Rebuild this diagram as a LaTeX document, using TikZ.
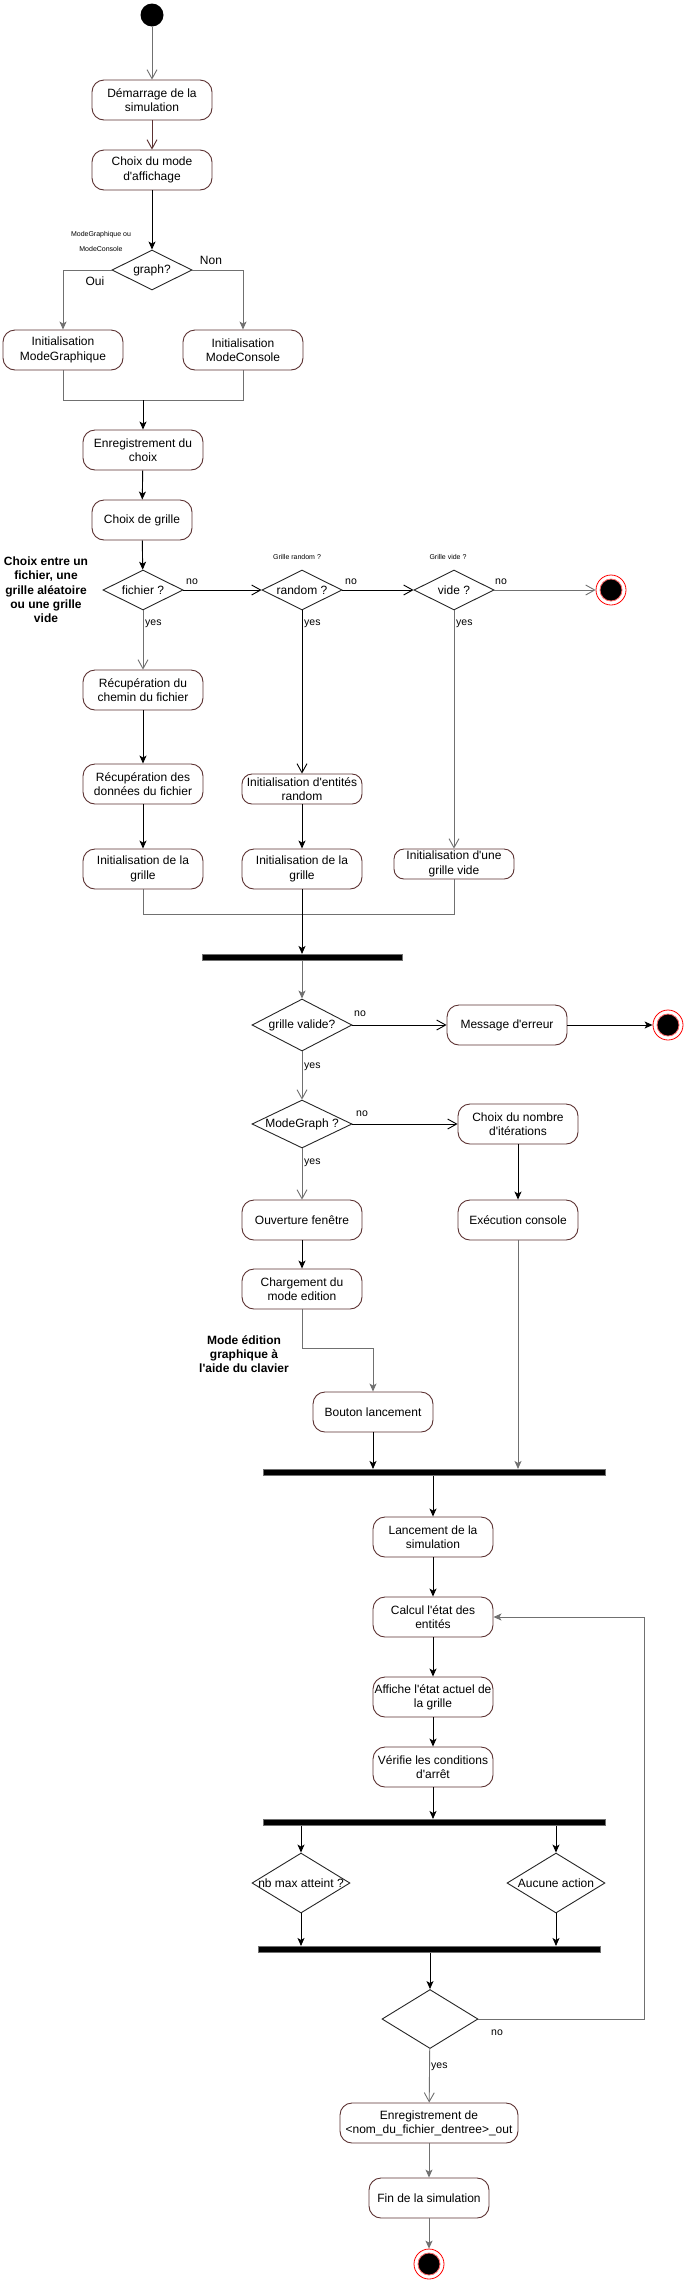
\documentclass[tikz,border=0pt]{standalone}
\usepackage{fontspec}
\setmainfont{Liberation Sans}[Ligatures=TeXOff]
\usetikzlibrary{arrows.meta,shapes.geometric}
\definecolor{boxbrd}{RGB}{92,50,50}
\definecolor{linegray}{RGB}{112,112,112}
\tikzstyle{activity}=[
    rectangle, rounded corners=12pt,
    draw=boxbrd, fill=white, line width=0.9pt,
    minimum width=120pt, minimum height=40pt,
    inner sep=1pt, align=center,
    font=\fontsize{12}{14.3}\selectfont,
]
\tikzstyle{decision}=[
    diamond, shape aspect=2,
    draw=black!85, fill=white, line width=0.9pt,
    minimum width=80pt, minimum height=40pt,
    inner sep=0pt,
    font=\fontsize{12}{14}\selectfont,
]
\tikzstyle{forkbar}=[rectangle, fill=black, draw=linegray, line width=0.6pt, minimum height=6.5pt, inner sep=0pt]
\tikzstyle{startnode}=[circle, fill=black, minimum size=23pt, inner sep=0pt]
\tikzstyle{endnode}=[
    circle, draw=red, line width=0.8pt, fill=white,
    minimum size=30pt, inner sep=0pt,
    path picture={\filldraw[fill=black, draw=red!60] (path picture bounding box.center) circle (11pt);},
]
\tikzstyle{flow}=[line width=0.9pt, -{Stealth[length=8pt,width=7pt,inset=2pt]}]
\tikzstyle{flowg}=[flow, draw=linegray]
\tikzstyle{guard}=[line width=0.9pt, -{Straight Barb[length=9pt,width=10pt]}]
\tikzstyle{guardg}=[guard, draw=linegray]
\tikzstyle{branch}=[font=\fontsize{12}{14}\selectfont, inner sep=0pt]
\tikzstyle{guardtext}=[font=\fontsize{10.5}{12}\selectfont, inner sep=0pt, anchor=west]
\tikzstyle{smallnote}=[font=\fontsize{7}{15}\selectfont, align=center, inner sep=0pt]
\tikzstyle{comment}=[font=\bfseries\fontsize{12}{14.3}\selectfont, align=center, inner sep=0pt]

\begin{document}
\begin{tikzpicture}[x=1pt, y=-1pt]
    \useasboundingbox (0,0) rectangle (684,2281);

    \node[startnode] (start) at (152,15) {};
    \node[activity] (demarrage) at (152,100) {Démarrage de la\\simulation};
    \node[activity] (choixmode) at (152,170) {Choix du mode\\d'affichage};
    \node[decision] (graph) at (152,270) {graph?};
    \node[smallnote] (modelabel) at (101,241) {ModeGraphique ou\\ModeConsole};
    \node[branch] (ouilabel) at (95,281) {Oui};
    \node[branch] (nonlabel) at (211,260) {Non};
    \node[activity] (initgraph) at (63,350) {Initialisation\\ModeGraphique};
    \node[activity] (initconsole) at (243,350) {Initialisation\\ModeConsole};
    \coordinate (join1) at (143,400);
    \node[activity] (enreg) at (143,450) {Enregistrement du\\choix};
    \node[activity, minimum width=100pt] (choixgrille) at (142,520) {Choix de grille};

    \node[comment] (choixnote) at (46,590) {Choix entre un\\fichier, une\\grille aléatoire\\ou une grille\\vide};
    \node[decision] (fichier) at (143,590) {fichier ?};
    \node[decision] (random) at (302,590) {random ?};
    \node[decision] (vide) at (454,590) {vide ?};
    \node[endnode] (end1) at (611,590) {};
    \node[smallnote] (randomlabel) at (297,557) {Grille random ?};
    \node[smallnote] (videlabel) at (448,557) {Grille vide ?};
    \node[guardtext] (no1) at (186,582) {no};
    \node[guardtext] (no2) at (345,582) {no};
    \node[guardtext] (no3) at (495,582) {no};
    \node[guardtext] (yes1) at (145,624) {yes};
    \node[guardtext] (yes2) at (304,624) {yes};
    \node[guardtext] (yes3) at (456,624) {yes};

    \node[activity] (chemin) at (143,690) {Récupération du\\chemin du fichier};
    \node[activity] (donnees) at (143,784) {Récupération des\\données du fichier};
    \node[activity, minimum height=30pt, rounded corners=10pt] (entites) at (302,789) {Initialisation d'entités\\random};
    \node[activity] (grillefichier) at (143,869) {Initialisation de la\\grille};
    \node[activity] (grillerandom) at (302,869) {Initialisation de la\\grille};
    \node[activity, minimum height=30pt, rounded corners=10pt] (grillevide) at (454,864) {Initialisation d'une\\grille vide};
    \coordinate (join2) at (302,914);
    \node[forkbar, minimum width=200pt] (fork1) at (302,957.5) {};

    \node[decision, minimum width=100pt, minimum height=52pt] (valide) at (302,1025) {\makebox[0pt]{grille valide?}};
    \node[activity] (erreur) at (507,1025) {Message d'erreur};
    \node[endnode] (end2) at (668,1025) {};
    \node[guardtext] (no4) at (354,1014) {no};
    \node[guardtext] (yes4) at (304,1067) {yes};
    \node[decision, minimum width=100pt, minimum height=48pt] (modegraph) at (302,1124) {\makebox[0pt]{ModeGraph ?}};
    \node[activity] (iterations) at (518,1124) {Choix du nombre\\d'itérations};
    \node[guardtext] (no5) at (356,1114) {no};
    \node[guardtext] (yes5) at (304,1163) {yes};
    \node[activity] (fenetre) at (302,1220) {Ouverture fenêtre};
    \node[activity] (execution) at (518,1220) {Exécution console};
    \node[activity] (edition) at (302,1289) {Chargement du\\mode edition};
    \node[comment] (editionnote) at (244,1354) {Mode édition\\graphique à\\l'aide du clavier};
    \node[activity] (bouton) at (373,1412) {Bouton lancement};
    \node[forkbar, minimum width=342pt] (fork2) at (434,1472.5) {};

    \node[activity] (lancement) at (433,1537) {Lancement de la\\simulation};
    \node[activity] (calcul) at (433,1617) {Calcul l'état des\\entités};
    \node[activity] (affiche) at (433,1697) {Affiche l'état actuel de\\la grille};
    \node[activity] (verifie) at (433,1767) {Vérifie les conditions\\d'arrêt};
    \node[forkbar, minimum width=342pt] (fork3) at (434,1822.5) {};
    \node[decision, minimum width=98pt, minimum height=60pt, shape aspect=1.6] (nbmax) at (301,1883) {\makebox[0pt]{nb max atteint ?}};
    \node[decision, minimum width=98pt, minimum height=60pt, shape aspect=1.6] (aucune) at (556,1883) {\makebox[0pt]{Aucune action}};
    \node[forkbar, minimum width=342pt] (fork4) at (429,1949.5) {};
    \node[decision, minimum width=96pt, minimum height=59pt, shape aspect=1.6] (arret) at (430,2019) {};
    \node[guardtext] (no6) at (491,2033) {no};
    \node[guardtext] (yes6) at (431,2067) {yes};
    \node[activity, minimum width=178pt] (sauvegarde) at (429,2123) {Enregistrement de\\<nom\_du\_fichier\_dentree>\_out};
    \node[activity] (fin) at (429,2198) {Fin de la simulation};
    \node[endnode] (end3) at (429,2264) {};

    \draw[guardg] (start) -- (demarrage);
    \draw[guard, draw=boxbrd] (demarrage) -- (choixmode);
    \draw[flow] (choixmode) -- (graph);
    \draw[flowg] (graph.west) -| (initgraph);
    \draw[flowg] (graph.east) -| (initconsole);
    \draw[linegray, line width=0.9pt] (initgraph.south) |- (initconsole.south |- join1) -- (initconsole.south);
    \draw[flow] (join1) -- (enreg);
    \draw[flow] (enreg) -- (choixgrille);
    \draw[flow] (choixgrille) -- (fichier);

    \draw[guard] (fichier) -- (random);
    \draw[guard] (random) -- (vide);
    \draw[guardg] (vide) -- (end1);
    \draw[guardg] (fichier) -- (chemin);
    \draw[guard] (random) -- (entites);
    \draw[guardg] (vide) -- (grillevide);
    \draw[flow] (chemin) -- (donnees);
    \draw[flow] (donnees) -- (grillefichier);
    \draw[flow] (entites) -- (grillerandom);
    \draw[linegray, line width=0.9pt] (grillefichier.south) |- (join2) -| (grillevide.south);
    \draw[flow] (grillerandom) -- (grillerandom |- fork1.north);

    \draw[flowg] (fork1.south -| valide) -- (valide);
    \draw[guard] (valide) -- (erreur);
    \draw[flow] (erreur) -- (end2);
    \draw[guardg] (valide) -- (modegraph);
    \draw[guard] (modegraph) -- (iterations);
    \draw[flow] (iterations) -- (execution);
    \draw[guardg] (modegraph) -- (fenetre);
    \draw[flow] (fenetre) -- (edition);
    \draw[flowg] (edition.south) -- ++(0,39) -| (bouton.north);
    \draw[flow] (bouton) -- (bouton |- fork2.north);
    \draw[flowg] (execution) -- (execution |- fork2.north);

    \draw[flow] (fork2.south -| lancement) -- (lancement);
    \draw[flow] (lancement) -- (calcul);
    \draw[flow] (calcul) -- (affiche);
    \draw[flow] (affiche) -- (verifie);
    \draw[flow] (verifie) -- (verifie |- fork3.north);
    \draw[flow] (fork3.south -| nbmax) -- (nbmax);
    \draw[flow] (fork3.south -| aucune) -- (aucune);
    \draw[flow] (nbmax) -- (nbmax |- fork4.north);
    \draw[flow] (aucune) -- (aucune |- fork4.north);
    \draw[flow] (fork4.south -| arret) -- (arret);
    \draw[flowg] (arret.east) -- ++(166,0) |- (calcul.east);
    \draw[guardg] (arret) -- (sauvegarde);
    \draw[flowg] (sauvegarde) -- (fin);
    \draw[flowg] (fin) -- (end3);
\end{tikzpicture}
\end{document}
